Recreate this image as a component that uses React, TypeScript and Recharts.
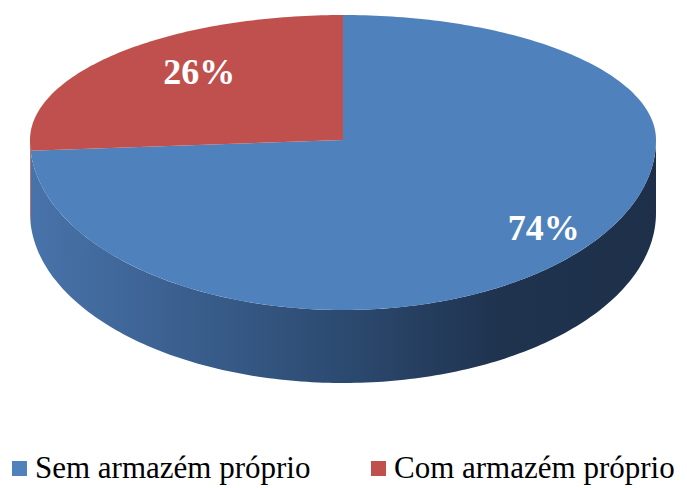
import React from "react";
import { PieChart, Pie, Legend } from "recharts";

const categories = ["Sem armazém próprio", "Com armazém próprio"];
const values = [74, 26];
const colors = ["#4f81bd", "#c0504d"];

const data = categories.map((name, i) => ({ name, value: values[i], fill: colors[i] }));

const W = 687;
const H = 488;
const CX = 343;
const CY = 140;
const RX = 313;
const RY_TOP = 125;
const RY_BOT = 170;
const DEPTH = 73;
const SERIF = '"Times New Roman", "Liberation Serif", Tinos, "DejaVu Serif", serif';
const LEGEND_X = [12, 371];

const sideGradients: Record<string, string[]> = {
  "#4f81bd": ["#4873aa", "#3a5f8e", "#2c4a70", "#1f334f", "#1e3049"],
  "#c0504d": ["#a8443f", "#8c3835", "#702c2a", "#54211f", "#4a1c1b"],
};

function pt(cx: number, cy: number, rx: number, deg: number): [number, number] {
  const r = (deg * Math.PI) / 180;
  const s = Math.sin(r);
  const ry = s > 0 ? (RY_TOP * rx) / RX : (RY_BOT * rx) / RX;
  return [cx + rx * Math.cos(r), cy - ry * s];
}

function arcPoints(cx: number, cy: number, rx: number, a0: number, a1: number) {
  const n = Math.max(2, Math.ceil(Math.abs(a1 - a0)));
  const pts: [number, number][] = [];
  for (let i = 0; i <= n; i++) {
    pts.push(pt(cx, cy, rx, a0 + ((a1 - a0) * i) / n));
  }
  return pts;
}

const EllipseSector = (props: any) => {
  const { cx, cy, outerRadius, startAngle, endAngle, fill, index } = props;
  const lo = Math.min(startAngle, endAngle);
  const hi = Math.max(startAngle, endAngle);
  const sides: React.ReactNode[] = [];
  const gid = `side-grad-${index}`;
  for (let k = -2; k <= 2; k++) {
    const f0 = -180 + 360 * k;
    const f1 = 360 * k;
    const a = Math.max(lo, f0);
    const b = Math.min(hi, f1);
    if (b > a) {
      const topPts = arcPoints(cx, cy, outerRadius, a, b);
      const botPts = topPts.map(([x, y]) => [x, y + DEPTH] as [number, number]).reverse();
      const all = [...topPts, ...botPts];
      const d = "M" + all.map((p) => p[0].toFixed(2) + "," + p[1].toFixed(2)).join("L") + "Z";
      sides.push(<path key={k} d={d} fill={`url(#${gid})`} stroke="none" />);
    }
  }
  const top = arcPoints(cx, cy, outerRadius, startAngle, endAngle);
  const dTop =
    `M${cx},${cy}L` + top.map((p) => p[0].toFixed(2) + "," + p[1].toFixed(2)).join("L") + "Z";
  const stops = sideGradients[fill] || sideGradients["#4f81bd"];
  return (
    <g>
      <defs>
        <linearGradient id={gid} gradientUnits="userSpaceOnUse" x1={cx - outerRadius} y1={0} x2={cx + outerRadius} y2={0}>
          <stop offset="0%" stopColor={stops[0]} />
          <stop offset="25%" stopColor={stops[1]} />
          <stop offset="50%" stopColor={stops[2]} />
          <stop offset="75%" stopColor={stops[3]} />
          <stop offset="100%" stopColor={stops[4]} />
        </linearGradient>
      </defs>
      {sides}
      <path d={dTop} fill={fill} stroke="none" />
    </g>
  );
};

const labelPlacement = [
  { f: 0.88, dy: -14 },
  { f: 0.63, dy: -14 },
];

const renderLabel = (props: any) => {
  const { cx, cy, outerRadius, midAngle, index, value } = props;
  const lp = labelPlacement[index] || { f: 0.7, dy: 0 };
  const [x, y] = pt(cx, cy, outerRadius * lp.f, midAngle);
  return (
    <text
      x={x}
      y={y + lp.dy}
      fill="#ffffff"
      textAnchor="middle"
      dominantBaseline="central"
      style={{ fontFamily: SERIF, fontWeight: "bold", fontSize: 36 }}
    >
      {`${value}%`}
    </text>
  );
};

const renderLegend = () => (
  <div
    style={{
      position: "relative",
      width: W,
      height: 38,
      fontFamily: SERIF,
      fontSize: 31,
      color: "#000",
      whiteSpace: "nowrap",
    }}
  >
    {data.map((d, i) => (
      <div
        key={d.name}
        style={{ position: "absolute", left: LEGEND_X[i], top: 0, height: 38, display: "flex", alignItems: "center" }}
      >
        <span style={{ display: "inline-block", width: 15, height: 15, background: d.fill, marginRight: 8 }} />
        <span style={{ fontFamily: SERIF, lineHeight: "38px" }}>{d.name}</span>
      </div>
    ))}
  </div>
);

export default function App() {
  return (
    <div style={{ position: "absolute", left: 0, top: 0, width: W, height: H, background: "#fff", fontFamily: SERIF }}>
      <PieChart width={W} height={H} margin={{ top: 0, right: 0, bottom: 0, left: 0 }}>
        <Pie
          data={data}
          dataKey="value"
          nameKey="name"
          cx={CX}
          cy={CY}
          outerRadius={RX}
          startAngle={90}
          endAngle={-270}
          stroke="none"
          shape={EllipseSector}
          label={renderLabel}
          labelLine={false}
          isAnimationActive={false}
        />
        <Legend
          content={renderLegend}
          wrapperStyle={{ position: "absolute", left: 0, top: 449, width: W, height: 38 }}
        />
      </PieChart>
    </div>
  );
}
